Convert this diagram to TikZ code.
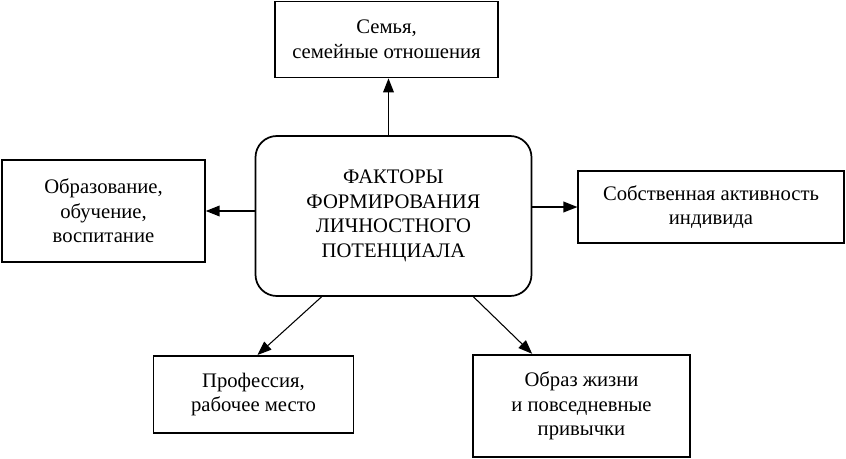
\documentclass[tikz,border=0pt]{standalone}
\usepackage{fontspec}
\setmainfont{Liberation Serif}
\usetikzlibrary{arrows.meta}

\begin{document}
\begin{tikzpicture}[
	x=0.75pt, y=-0.75pt,
	font=\fontsize{15.5}{18.4}\selectfont,
	factor/.style = {draw, line width=1.3pt, align=center, inner sep=0pt},
	core/.style = {factor, rounded corners=16pt},
	link/.style = {line width=1.1pt, -{Triangle[length=10.5pt,width=8pt]}},
	slant/.style = {link, line width=0.8pt}
	]
	\useasboundingbox (0,0) rectangle (846,458);
	\node [core, minimum width=207pt, minimum height=120pt] (core) at (393.5,216)
		{ФАКТОРЫ\\ФОРМИРОВАНИЯ\\ЛИЧНОСТНОГО\\ПОТЕНЦИАЛА};
	\node [factor, minimum width=167pt, minimum height=57pt] (family) at (386.5,39.5)
		{Семья,\\семейные отношения};
	\node [factor, minimum width=152pt, minimum height=76pt] (school) at (103.5,211)
		{Образование,\\обучение,\\воспитание};
	\node [factor, minimum width=199pt, minimum height=54pt] (self) at (711,207)
		{Собственная активность\\индивида};
	\node [factor, minimum width=150pt, minimum height=58pt] (job) at (253.5,394.5)
		{Профессия,\\рабочее место};
	\node [factor, minimum width=163pt, minimum height=77pt] (life) at (581.5,406)
		{Образ жизни\\и повседневные\\привычки};
	% connectors
	\draw [link] ([xshift=1.5pt]core.north -| family.south) -- ([xshift=1.5pt]family.south);
	\draw [link] (core.west |- school.east) -- (school.east);
	\draw [link] (core.east |- self.west) -- (self.west);
	\draw [slant] ([xshift=-54pt]core.south) -- ([xshift=3pt]job.north);
	\draw [slant] ([xshift=60pt]core.south) -- ([xshift=-37pt]life.north);
\end{tikzpicture}
\end{document}
